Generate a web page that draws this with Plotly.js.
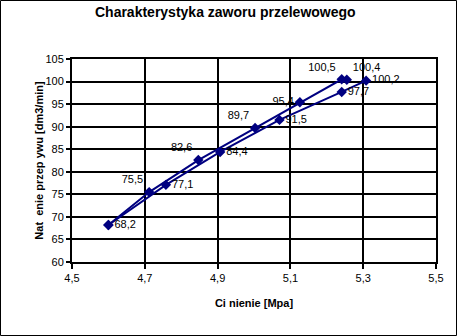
<!DOCTYPE html>
<html>
<head>
<meta charset="utf-8">
<script src="https://cdn.plot.ly/plotly-3.0.1.min.js"></script>
<style>
  html, body { margin: 0; padding: 0; background: #fff; }
  #chart { width: 457px; height: 336px; }
</style>
</head>
<body>
<div id="chart"></div>
<script>
// Upper branch (labels to the upper-left)
const upperX = [4.60, 4.712, 4.847, 5.003, 5.126, 5.241, 5.255];
const upperY = [68.2, 75.5, 82.6, 89.7, 95.4, 100.5, 100.4];
// Lower branch (labels to the right)
const lowerX = [4.60, 4.758, 4.907, 5.07, 5.241, 5.308];
const lowerY = [68.2, 77.1, 84.4, 91.5, 97.7, 100.2];

const xTicks = [4.5, 4.7, 4.9, 5.1, 5.3, 5.5];
const xTickText = ['4,5', '4,7', '4,9', '5,1', '5,3', '5,5'];
const yTicks = [60, 65, 70, 75, 80, 85, 90, 95, 100, 105];

const fmt = v => v.toFixed(1).replace('.', ',');
const upperText = upperY.map((v, i) => i === 0 ? '' : fmt(v));
const lowerText = lowerY.map(fmt);
const upperPos = ['middle right', 'top left', 'top left', 'top left', 'middle left', 'top left', 'top right'];
const lowerPos = lowerY.map(() => 'middle right');

const navy = '#000080';
const font = 'Liberation Sans, Arial, sans-serif';

const traceStyle = {
  type: 'scatter',
  mode: 'lines+markers+text',
  line: { color: navy, width: 2 },
  marker: { symbol: 'diamond', size: 8, color: navy },
  textfont: { family: font, size: 11, color: '#000' },
  cliponaxis: false,
  showlegend: false,
  hoverinfo: 'x+y'
};

const data = [
  Object.assign({}, traceStyle, { x: upperX, y: upperY, text: upperText, textposition: upperPos }),
  Object.assign({}, traceStyle, { x: lowerX, y: lowerY, text: lowerText, textposition: lowerPos })
];

const W = 457, H = 336, L = 72, R = 21, T = 59, B = 74;
const pw = W - L - R, ph = H - T - B;

const layout = {
  width: W, height: H,
  margin: { l: L, r: R, t: T, b: B, pad: 0 },
  paper_bgcolor: '#fff',
  plot_bgcolor: '#fff',
  separators: ', ',
  font: { family: font, size: 11, color: '#000' },
  title: {
    text: '<b>Charakterystyka zaworu przelewowego</b>',
    font: { family: font, size: 14, color: '#000' },
    xref: 'container', x: 0.493, xanchor: 'center',
    yref: 'container', y: 1 - 12 / H, yanchor: 'middle'
  },
  xaxis: {
    range: [4.5, 5.5],
    tickvals: xTicks, ticktext: xTickText,
    showgrid: true, gridcolor: '#000', gridwidth: 2,
    showline: true, linecolor: '#000', linewidth: 2, mirror: true,
    ticks: 'outside', ticklen: 5, tickwidth: 2, tickcolor: '#000',
    tickfont: { family: font, size: 11, color: '#000' },
    zeroline: false,
    title: { text: '<b>Ci nienie [Mpa]</b>', font: { family: font, size: 11, color: '#000' }, standoff: 16 }
  },
  yaxis: {
    range: [60, 105],
    tickvals: yTicks,
    showgrid: true, gridcolor: '#000', gridwidth: 2,
    showline: true, linecolor: '#000', linewidth: 2, mirror: true,
    ticks: 'outside', ticklen: 4, tickwidth: 2, tickcolor: '#000',
    tickfont: { family: font, size: 11, color: '#000' },
    zeroline: false,
    title: { text: '<b>Nat  enie przep ywu [dm3/min]</b>', font: { family: font, size: 11, color: '#000' }, standoff: 0 }
  },
  shapes: [{
    type: 'rect', xref: 'paper', yref: 'paper',
    x0: (0.5 - L) / pw, x1: 1 + (R - 0.5) / pw,
    y0: -(B - 0.5) / ph, y1: 1 + (T - 0.5) / ph,
    line: { color: '#000', width: 1 }, fillcolor: 'rgba(0,0,0,0)', layer: 'above'
  }]
};

Plotly.newPlot('chart', data, layout, { displayModeBar: false, staticPlot: true });
</script>
</body>
</html>
